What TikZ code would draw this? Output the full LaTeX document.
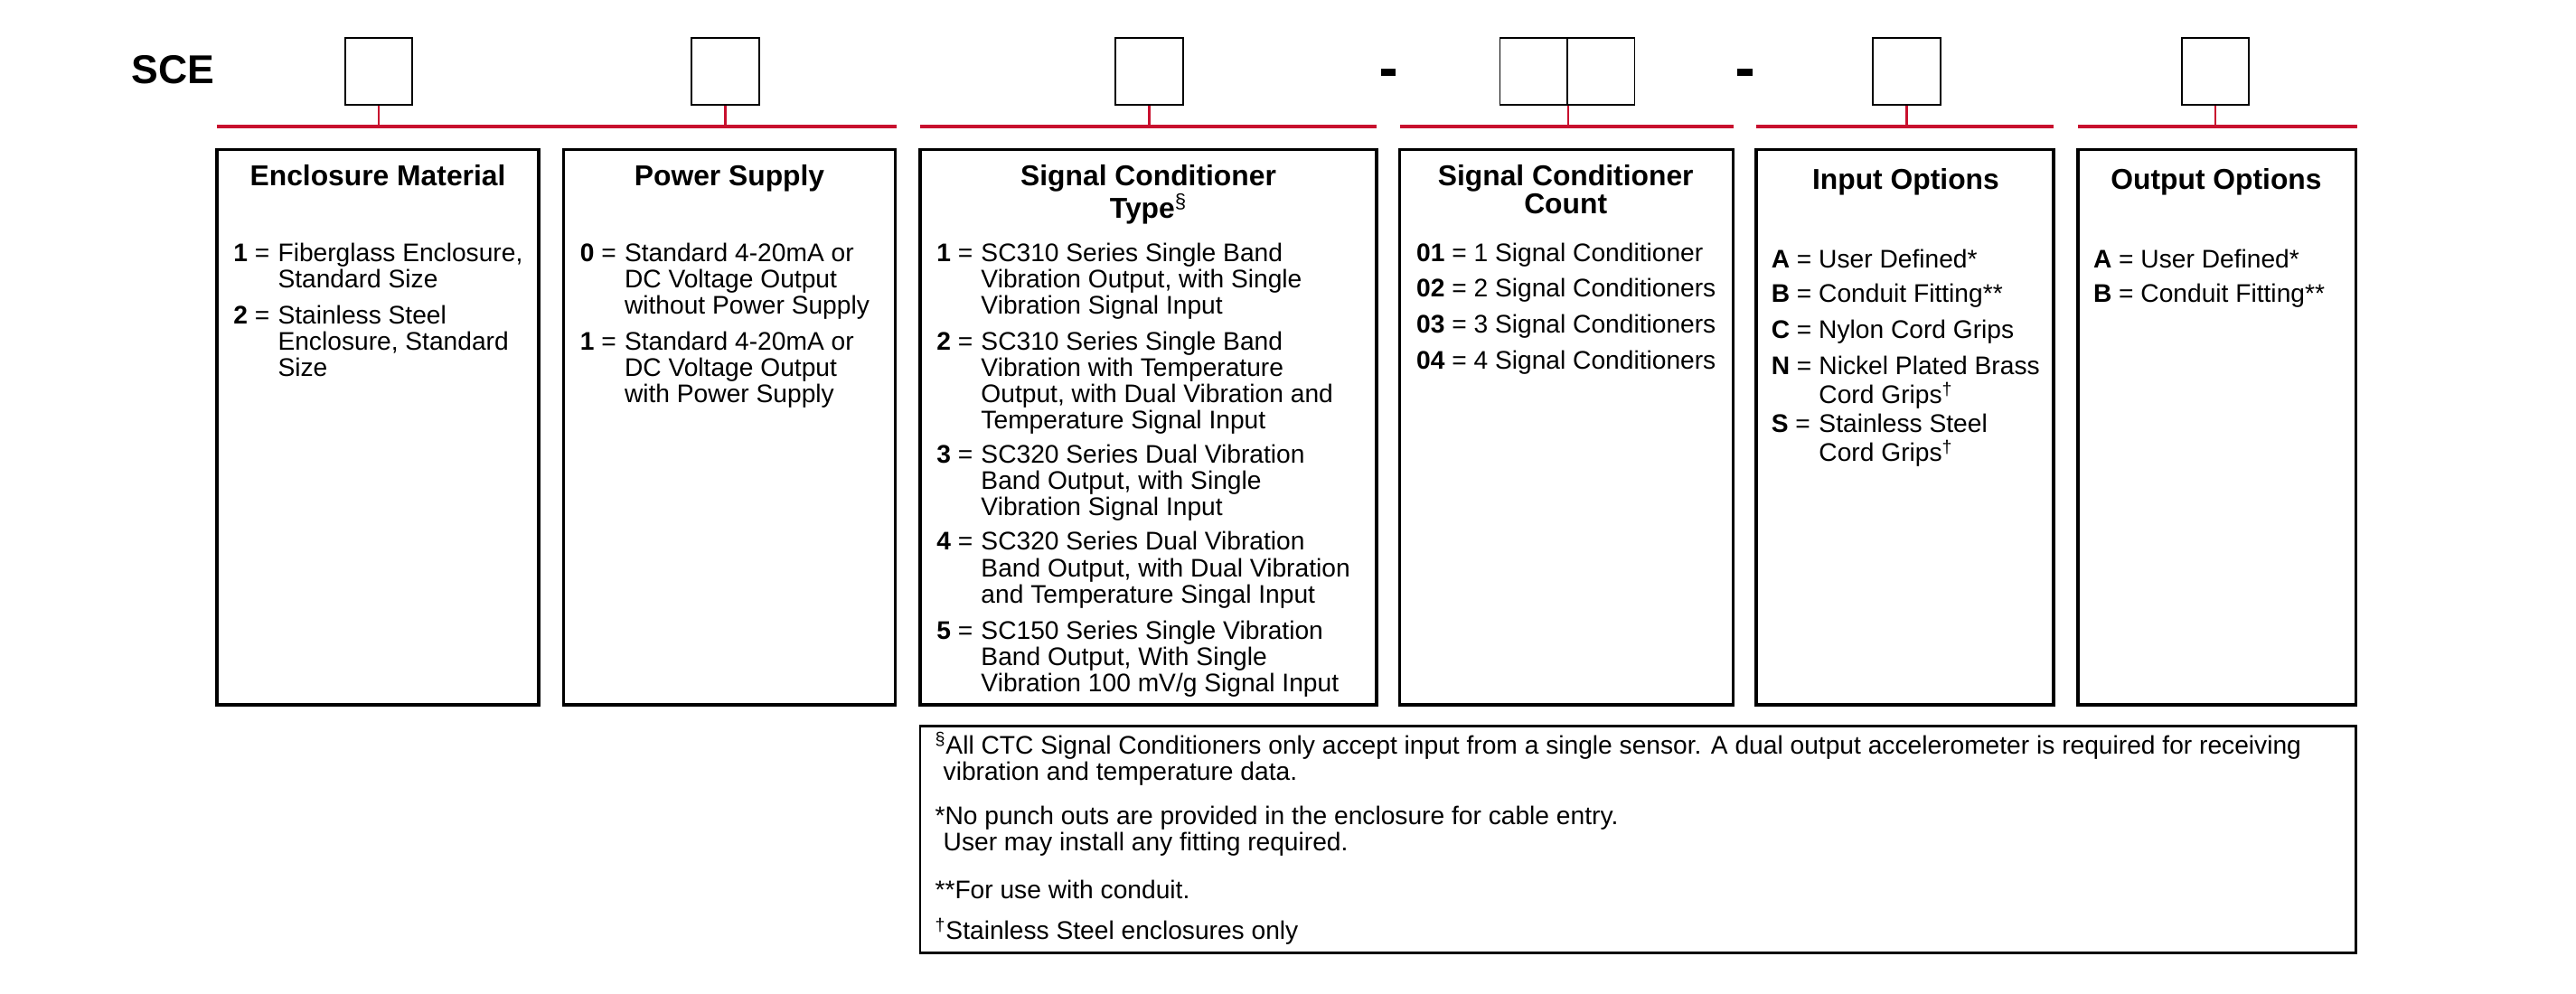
\documentclass[tikz,border=0pt]{standalone}
\usepackage{fontspec}
\setmainfont{Liberation Sans}
\definecolor{ctcred}{RGB}{200,16,46}
\tikzset{
  slot/.style={draw,line width=1pt,minimum width=41pt,minimum height=41pt,inner sep=0pt},
  panel/.style={draw,line width=2pt},
  redl/.style={draw=ctcred,line width=2.5pt},
  tick/.style={draw=ctcred,line width=1.5pt},
  ttl/.style={anchor=base,inner sep=0pt,font=\fontsize{17.5}{16.5}\selectfont\bfseries},
  lab/.style={anchor=base west,inner sep=0pt,font=\fontsize{15.5}{16}\selectfont},
  txt/.style={anchor=base west,inner sep=0pt,font=\fontsize{15.5}{16}\selectfont},
}
\newcommand{\ml}[1]{\begin{tabular}[t]{@{}l@{}}#1\end{tabular}}
\newcommand{\mc}[1]{\begin{tabular}[t]{@{}c@{}}#1\end{tabular}}
\begin{document}
\begin{tikzpicture}[x=1pt,y=-1pt]
\useasboundingbox (0,0) rectangle (1568,605);
\node[anchor=base west,inner sep=0pt,font=\fontsize{24.5}{24}\selectfont\bfseries] (sce) at (80,51) {SCE};
% slots
\node[slot] (s1) at (230.5,43.5) {};
\node[slot] (s2) at (441.5,43.5) {};
\node[slot] (s3) at (699.5,43.5) {};
\node[slot] (s4a) at (933.5,43.5) {};
\node[slot] (s4b) at (974.5,43.5) {};
\node[slot] (s5) at (1160.5,43.5) {};
\node[slot] (s6) at (1348.5,43.5) {};
\node[fill,minimum width=9pt,minimum height=4pt,inner sep=0pt] (d1) at (845,44) {};
\node[fill,minimum width=9pt,minimum height=4pt,inner sep=0pt] (d2) at (1062,44) {};
% red lines
\coordinate (r1a) at (132,77); \coordinate (r1b) at (357,77);
\coordinate (r2a) at (343,77); \coordinate (r2b) at (546,77);
\coordinate (r3a) at (560,77); \coordinate (r3b) at (838,77);
\coordinate (r4a) at (852,77); \coordinate (r4b) at (1055,77);
\coordinate (r5a) at (1069,77); \coordinate (r5b) at (1250,77);
\coordinate (r6a) at (1265,77); \coordinate (r6b) at (1435,77);
\draw[redl] (r1a) -- (r1b); \draw[redl] (r2a) -- (r2b); \draw[redl] (r3a) -- (r3b);
\draw[redl] (r4a) -- (r4b); \draw[redl] (r5a) -- (r5b); \draw[redl] (r6a) -- (r6b);
\draw[tick] (s1.south) -- (s1.south |- r1a);
\draw[tick] (s2.south) -- (s2.south |- r2a);
\draw[tick] (s3.south) -- (s3.south |- r3a);
\draw[tick] (s4a.south east) -- (s4a.south east |- r4a);
\draw[tick] (s5.south) -- (s5.south |- r5a);
\draw[tick] (s6.south) -- (s6.south |- r6a);
% panels
\draw[panel] (132,91) rectangle (328,429);
\draw[panel] (343,91) rectangle (545,429);
\draw[panel] (560,91) rectangle (838,429);
\draw[panel] (852,91) rectangle (1055,429);
\draw[panel] (1069,91) rectangle (1250,429);
\draw[panel] (1265,91) rectangle (1434,429);
\draw[line width=1.5pt] (560,442) rectangle (1434,580);
% titles
\node[ttl] (t1) at (230,113) {Enclosure Material};
\node[ttl] (t2) at (444,113) {Power Supply};
\node[ttl] (t3) at (699,113) {\mc{Signal Conditioner\\Type\textsuperscript{\normalfont\S}}};
\node[ttl] (t4) at (953,113) {\mc{Signal Conditioner\\Count}};
\node[ttl] (t5) at (1160,115) {Input Options};
\node[ttl] (t6) at (1349,115) {Output Options};
% box 1
\node[lab] (a1) at (142,159) {\textbf{1} =};
\node[txt] (b1) at (169,159) {\ml{Fiberglass Enclosure,\\Standard Size}};
\node[lab] (a2) at (142,197) {\textbf{2} =};
\node[txt] (b2) at (169,197) {\ml{Stainless Steel\\Enclosure, Standard\\Size}};
% box 2
\node[lab] (c1) at (353,159) {\textbf{0} =};
\node[txt] (e1) at (380,159) {\ml{Standard 4-20mA or\\DC Voltage Output\\without Power Supply}};
\node[lab] (c2) at (353,213) {\textbf{1} =};
\node[txt] (e2) at (380,213) {\ml{Standard 4-20mA or\\DC Voltage Output\\with Power Supply}};
% box 3
\node[lab] (f1) at (570,159) {\textbf{1} =};
\node[txt] (g1) at (597,159) {\ml{SC310 Series Single Band\\Vibration Output, with Single\\Vibration Signal Input}};
\node[lab] (f2) at (570,213) {\textbf{2} =};
\node[txt] (g2) at (597,213) {\ml{SC310 Series Single Band\\Vibration with Temperature\\Output, with Dual Vibration and\\Temperature Signal Input}};
\node[lab] (f3) at (570,282) {\textbf{3} =};
\node[txt] (g3) at (597,282) {\ml{SC320 Series Dual Vibration\\Band Output, with Single\\Vibration Signal Input}};
\node[lab] (f4) at (570,335) {\textbf{4} =};
\node[txt] (g4) at (597,335) {\ml{SC320 Series Dual Vibration\\Band Output, with Dual Vibration\\and Temperature Singal Input}};
\node[lab] (f5) at (570,389) {\textbf{5} =};
\node[txt] (g5) at (597,389) {\ml{SC150 Series Single Vibration\\Band Output, With Single\\Vibration 100 mV/g Signal Input}};
% box 4
\node[lab] (h1) at (862,159) {\textbf{01} = 1 Signal Conditioner};
\node[lab] (h2) at (862,181) {\textbf{02} = 2 Signal Conditioners};
\node[lab] (h3) at (862,203) {\textbf{03} = 3 Signal Conditioners};
\node[lab] (h4) at (862,225) {\textbf{04} = 4 Signal Conditioners};
% box 5
\node[lab] (i1) at (1078,163) {\textbf{A} = User Defined*};
\node[lab] (i2) at (1078,184) {\textbf{B} = Conduit Fitting**};
\node[lab] (i3) at (1078,206) {\textbf{C} = Nylon Cord Grips};
\node[lab] (i4) at (1078,228) {\textbf{N} =};
\node[txt] (j4) at (1107,228) {\ml{Nickel Plated Brass\\Cord Grips\textsuperscript{\dag}}};
\node[lab] (i5) at (1078,263) {\textbf{S} =};
\node[txt] (j5) at (1107,263) {\ml{Stainless Steel\\Cord Grips\textsuperscript{\dag}}};
% box 6
\node[lab] (k1) at (1274,163) {\textbf{A} = User Defined*};
\node[lab] (k2) at (1274,184) {\textbf{B} = Conduit Fitting**};
% footnotes
\node[txt] (n1) at (569,459) {\ml{\textsuperscript{\S}All CTC Signal Conditioners only accept input from a single sensor. A dual output accelerometer is required for receiving\\\hspace*{5pt}vibration and temperature data.}};
\node[txt] (n2) at (569,502) {\ml{*No punch outs are provided in the enclosure for cable entry.\\\hspace*{5pt}User may install any fitting required.}};
\node[txt] (n3) at (569,547) {**For use with conduit.};
\node[txt] (n4) at (569,572) {\textsuperscript{\dag}Stainless Steel enclosures only};
\end{tikzpicture}
\end{document}
